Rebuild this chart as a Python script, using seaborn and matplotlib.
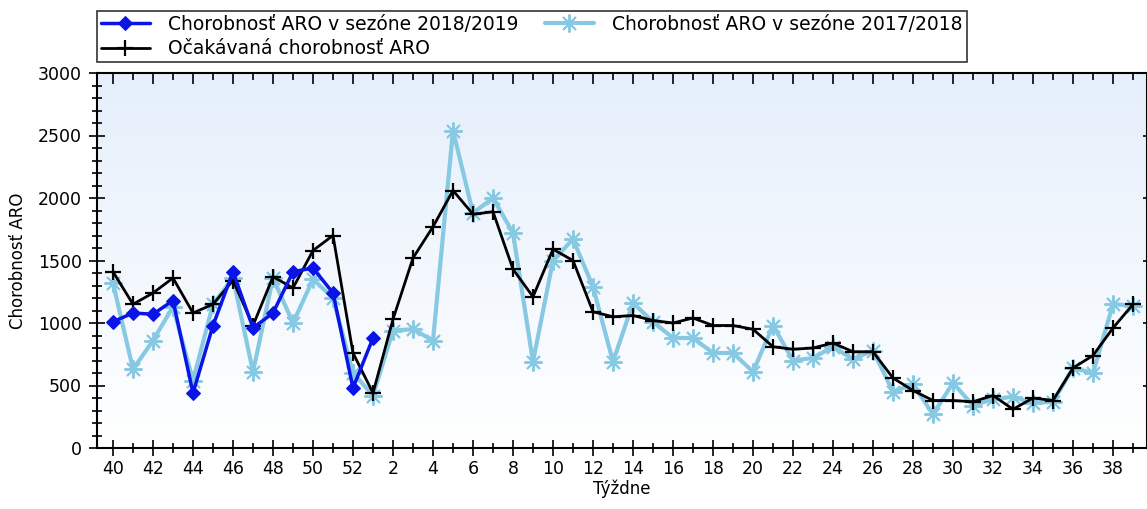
#!/usr/bin/env python3
import matplotlib
matplotlib.use('Agg')

import matplotlib.pyplot as plt
import matplotlib.lines as mlines
import numpy as np
import pandas as pd
import seaborn as sns
from matplotlib.ticker import MultipleLocator
from matplotlib.colors import LinearSegmentedColormap

# ------------------------------------------------------------
#     Data
# ------------------------------------------------------------

weeks = list(range(40, 53)) + list(range(1, 40))

season_2018 = [1010, 1080, 1070, 1180, 440, 980, 1410, 960, 1080, 1410,
               1440, 1240, 480, 880]

season_2017 = [1320, 630, 860, 1130, 540, 1150, 1360, 610, 1360, 1000,
               1350, 1200, 600, 420,
               940, 950, 860, 2540, 1880, 2000, 1720, 690, 1500, 1670,
               1290, 690, 1160, 1010, 880,
               880, 760, 760, 610, 980, 700, 720, 810, 710, 780, 450,
               510, 270, 520, 340, 390, 410, 360, 370, 640, 600, 1150, 1140]

expected = [1410, 1150, 1240, 1360, 1080, 1150, 1340, 980, 1370, 1280,
            1580, 1700, 760, 440,
            1030, 1520, 1770, 2060, 1870, 1890, 1430, 1210, 1590, 1500,
            1090, 1050, 1060, 1020, 1000,
            1040, 980, 980, 950, 810, 790, 800, 840, 770, 770, 560,
            460, 380, 380, 370, 420, 310, 400, 380, 640, 740, 960, 1150]

label_2018 = "Chorobnosť ARO v sezóne 2018/2019"
label_2017 = "Chorobnosť ARO v sezóne 2017/2018"
label_exp = "Očakávaná chorobnosť ARO"

# ------------------------------------------------------------
#     Plotting
# ------------------------------------------------------------

sns.set_style("ticks")
plt.rcParams['font.family'] = ['DejaVu Sans']
plt.rcParams['font.size'] = 12
plt.rcParams['text.color'] = 'black'
plt.rcParams['axes.labelcolor'] = 'black'
plt.rcParams['xtick.color'] = 'black'
plt.rcParams['ytick.color'] = 'black'

df_2018 = pd.DataFrame({'pos': np.arange(len(season_2018)), 'val': season_2018})
df_2017 = pd.DataFrame({'pos': np.arange(len(season_2017)), 'val': season_2017})
df_exp = pd.DataFrame({'pos': np.arange(len(expected)), 'val': expected})

fig = plt.figure(figsize=(11.47, 5.09), dpi=100)
ax = fig.add_axes([97 / 1147, 1 - 448 / 509, 1 - 97 / 1147, (448 - 73) / 509])

xlim = (-0.8, 51.7)
ylim = (0, 3000)

# background gradient, light blue on top fading to white
cmap = LinearSegmentedColormap.from_list("bg", ["#ffffff", "#e5effb"])
grad = np.linspace(1, 0, 256).reshape(-1, 1)
ax.imshow(grad, extent=[xlim[0], xlim[1], ylim[0], ylim[1]], aspect='auto',
          cmap=cmap, zorder=0, interpolation='bicubic')

sns.lineplot(data=df_2017, x='pos', y='val', ax=ax, color='#87c9e3',
             linewidth=3, marker=(8, 2, 0), markersize=13,
             markeredgewidth=1.4, markeredgecolor='#87c9e3',
             label=label_2017, zorder=2)
sns.lineplot(data=df_exp, x='pos', y='val', ax=ax, color='black',
             linewidth=2, marker='+', markersize=12,
             markeredgewidth=1.6, markeredgecolor='black',
             label=label_exp, zorder=3)
sns.lineplot(data=df_2018, x='pos', y='val', ax=ax, color='#0a14e6',
             linewidth=2.5, marker='D', markersize=7,
             markeredgecolor='#0a14e6', label=label_2018, zorder=4)

ax.set_xlim(*xlim)
ax.set_ylim(*ylim)

# ticks
ax.set_xticks(range(0, len(weeks), 2))
ax.set_xticklabels([str(w) for w in weeks[::2]])
ax.xaxis.set_minor_locator(MultipleLocator(1))
ax.set_yticks(range(0, 3001, 500))
ax.yaxis.set_minor_locator(MultipleLocator(100))
ax.tick_params(which='major', direction='inout', length=12, width=1.2,
               color='black', labelcolor='black', labelsize=12.5,
               bottom=True, left=True, labeltop=False, labelright=False)
ax.tick_params(which='minor', direction='inout', length=7, width=1.2,
               color='black', bottom=True, left=True)
ax.tick_params(axis='x', which='both', top=True)
ax.tick_params(axis='y', which='major', right=True)
ax.tick_params(axis='y', which='minor', right=False)
ax.tick_params(axis='x', which='major', pad=3)
ax.tick_params(axis='y', which='major', pad=5)

# top ticks point inward only, right side has just small inner marks
for t in ax.xaxis.get_major_ticks():
    t.tick2line.set_marker(mlines.TICKDOWN)
    t.tick2line.set_markersize(8)
for t in ax.xaxis.get_minor_ticks():
    t.tick2line.set_marker(mlines.TICKDOWN)
    t.tick2line.set_markersize(5)
for t in ax.yaxis.get_major_ticks():
    t.tick2line.set_marker(mlines.TICKLEFT)
    t.tick2line.set_markersize(3)

for sp in ax.spines.values():
    sp.set_color('black')
    sp.set_linewidth(1.5)

ax.set_xlabel("Týždne", fontsize=12, labelpad=1)
ax.set_ylabel("Chorobnosť ARO", fontsize=12, labelpad=8)

# legend above the plot
handles, labels = ax.get_legend_handles_labels()
if ax.get_legend() is not None:
    ax.get_legend().remove()
order = [labels.index(label_2018), labels.index(label_exp), labels.index(label_2017)]
leg = fig.legend([handles[i] for i in order], [labels[i] for i in order],
                 ncol=2, loc='upper left', bbox_to_anchor=(97 / 1147, 1 - 11 / 509),
                 frameon=True, fancybox=False, edgecolor='black', fontsize=13.5,
                 handlelength=2.6, handletextpad=1.0, columnspacing=1.4,
                 borderpad=0.2, labelspacing=0.3, borderaxespad=0)
leg.get_frame().set_linewidth(1.2)

plt.savefig("out.png", dpi=100)
